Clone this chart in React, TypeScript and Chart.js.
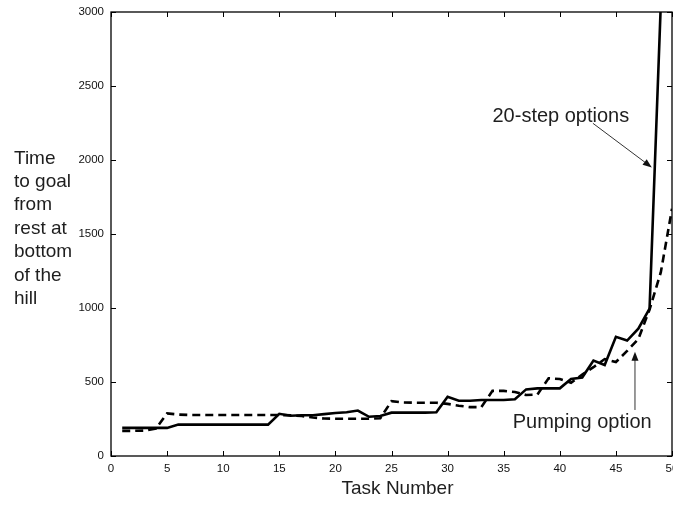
import { useEffect, useRef } from 'react';
import { Chart, registerables } from 'chart.js';

Chart.register(...registerables);

const taskNumbers = [
  1, 2, 3, 4, 5, 6, 7, 8, 9, 10, 11, 12, 13, 14, 15, 16, 17, 18, 19, 20, 21, 22, 23, 24, 25,
  26, 27, 28, 29, 30, 31, 32, 33, 34, 35, 36, 37, 38, 39, 40, 41, 42, 43, 44, 45, 46, 47, 48, 49, 50,
];

const twentyStepOptions = [
  190, 190, 190, 190, 190, 212, 212, 212, 212, 212, 212, 212, 212, 212, 285, 272, 275, 275, 283, 290,
  296, 307, 265, 270, 293, 293, 293, 293, 295, 400, 373, 373, 378, 378, 378, 383, 450, 457, 457, 457,
  520, 530, 645, 615, 805, 780, 860, 995, 3050, 4300,
];

const pumpingOption = [
  170, 170, 172, 185, 288, 280, 277, 277, 277, 277, 277, 277, 277, 277, 277, 275, 270, 260, 253, 252,
  252, 252, 252, 255, 370, 362, 360, 360, 360, 352, 340, 330, 330, 440, 440, 432, 412, 415, 525, 520,
  495, 550, 600, 655, 635, 710, 790, 990, 1240, 1670,
];

const xTickValues = [0, 5, 10, 15, 20, 25, 30, 35, 40, 45, 50];
const yTickValues = [0, 500, 1000, 1500, 2000, 2500, 3000];

const yTitleLines = ['Time', 'to goal', 'from', 'rest at', 'bottom', 'of the', 'hill'];
const xTitle = 'Task Number';
const seriesNames = ['20-step options', 'Pumping option'];

const FONT = '"Liberation Sans", Arial, Helvetica, sans-serif';

function drawArrow(ctx: CanvasRenderingContext2D, x1: number, y1: number, x2: number, y2: number) {
  const ang = Math.atan2(y2 - y1, x2 - x1);
  const headLen = 9;
  const headW = 3.5;
  ctx.save();
  ctx.strokeStyle = '#333';
  ctx.fillStyle = '#111';
  ctx.lineWidth = 1;
  ctx.beginPath();
  ctx.moveTo(x1, y1);
  ctx.lineTo(x2 - Math.cos(ang) * headLen * 0.8, y2 - Math.sin(ang) * headLen * 0.8);
  ctx.stroke();
  ctx.beginPath();
  ctx.moveTo(x2, y2);
  ctx.lineTo(
    x2 - Math.cos(ang) * headLen - Math.sin(ang) * headW,
    y2 - Math.sin(ang) * headLen + Math.cos(ang) * headW,
  );
  ctx.lineTo(
    x2 - Math.cos(ang) * headLen + Math.sin(ang) * headW,
    y2 - Math.sin(ang) * headLen - Math.cos(ang) * headW,
  );
  ctx.closePath();
  ctx.fill();
  ctx.restore();
}

const framePlugin = {
  id: 'frameAndNotes',
  afterDraw(chart: any) {
    const { ctx, chartArea, scales } = chart;
    const xs = scales.x;
    const ys = scales.y;
    const { left, right, top, bottom } = chartArea;
    ctx.save();
    ctx.strokeStyle = '#000';
    ctx.lineWidth = 1.3;
    ctx.strokeRect(left, top, right - left, bottom - top);
    const tl = 5;
    ctx.beginPath();
    xTickValues.forEach((v) => {
      const px = Math.round(xs.getPixelForValue(v)) + 0.5;
      ctx.moveTo(px, bottom);
      ctx.lineTo(px, bottom - tl);
      ctx.moveTo(px, top);
      ctx.lineTo(px, top + tl);
    });
    yTickValues.forEach((v) => {
      const py = Math.round(ys.getPixelForValue(v)) + 0.5;
      ctx.moveTo(left, py);
      ctx.lineTo(left + tl, py);
      ctx.moveTo(right, py);
      ctx.lineTo(right - tl, py);
    });
    ctx.lineWidth = 1;
    ctx.stroke();

    // titles
    ctx.fillStyle = '#1e1e1e';
    ctx.font = `19px ${FONT}`;
    ctx.textAlign = 'left';
    ctx.textBaseline = 'alphabetic';
    yTitleLines.forEach((line, i) => {
      ctx.fillText(line, 14, 163.5 + i * 23.4);
    });
    ctx.textAlign = 'center';
    ctx.fillText(xTitle, 397.5, 494);

    // annotations (anchored in data coordinates)
    ctx.textAlign = 'left';
    ctx.font = `20px ${FONT}`;
    ctx.fillText(seriesNames[0], xs.getPixelForValue(34.0), ys.getPixelForValue(2258));
    ctx.fillText(seriesNames[1], xs.getPixelForValue(35.8), ys.getPixelForValue(187));
    drawArrow(
      ctx,
      xs.getPixelForValue(42.95),
      ys.getPixelForValue(2248),
      xs.getPixelForValue(48.2),
      ys.getPixelForValue(1950),
    );
    drawArrow(
      ctx,
      xs.getPixelForValue(46.7),
      ys.getPixelForValue(311),
      xs.getPixelForValue(46.7),
      ys.getPixelForValue(705),
    );
    ctx.restore();
  },
};

export default function App() {
  const canvasRef = useRef<HTMLCanvasElement | null>(null);

  useEffect(() => {
    const canvas = canvasRef.current;
    if (!canvas) return;
    const chart = new Chart(canvas, {
      type: 'line',
      data: {
        datasets: [
          {
            label: seriesNames[0],
            data: taskNumbers.map((t, i) => ({ x: t, y: twentyStepOptions[i] })),
            borderColor: '#000',
            borderWidth: 2.6,
            pointRadius: 0,
            tension: 0,
            fill: false,
          },
          {
            label: seriesNames[1],
            data: taskNumbers.map((t, i) => ({ x: t, y: pumpingOption[i] })),
            borderColor: '#000',
            borderWidth: 2.6,
            borderDash: [8, 5],
            pointRadius: 0,
            tension: 0,
            fill: false,
          },
        ],
      },
      options: {
        responsive: false,
        animation: false,
        devicePixelRatio: 1,
        layout: { padding: { left: 0, right: 1, top: 12, bottom: 0 } },
        plugins: {
          legend: { display: false },
          tooltip: { enabled: false },
          title: { display: false },
        },
        scales: {
          x: {
            type: 'linear',
            min: 0,
            max: 50,
            grid: { display: false, drawTicks: false },
            border: { display: false },
            afterBuildTicks: (s: any) => {
              s.ticks = xTickValues.map((v) => ({ value: v }));
            },
            afterFit: (s: any) => {
              s.height = 52;
              s.paddingLeft = 0;
              s.paddingRight = 0;
            },
            ticks: {
              padding: 6,
              color: '#111',
              font: { family: FONT, size: 11.5 },
              maxRotation: 0,
              autoSkip: false,
              callback: (v: any) => String(v),
            },
          },
          y: {
            type: 'linear',
            min: 0,
            max: 3000,
            grid: { display: false, drawTicks: false },
            border: { display: false },
            afterBuildTicks: (s: any) => {
              s.ticks = yTickValues.map((v) => ({ value: v }));
            },
            afterFit: (s: any) => {
              s.width = 111;
              s.paddingTop = 0;
              s.paddingBottom = 0;
            },
            ticks: {
              padding: 7,
              color: '#111',
              font: { family: FONT, size: 11.5 },
              autoSkip: false,
              callback: (v: any) => String(v),
            },
          },
        },
      },
      plugins: [framePlugin],
    });
    return () => chart.destroy();
  }, []);

  return (
    <div style={{ position: 'fixed', left: 0, top: 0, width: 673, height: 508, background: '#fff' }}>
      <canvas ref={canvasRef} width={673} height={508} style={{ display: 'block' }} />
    </div>
  );
}
